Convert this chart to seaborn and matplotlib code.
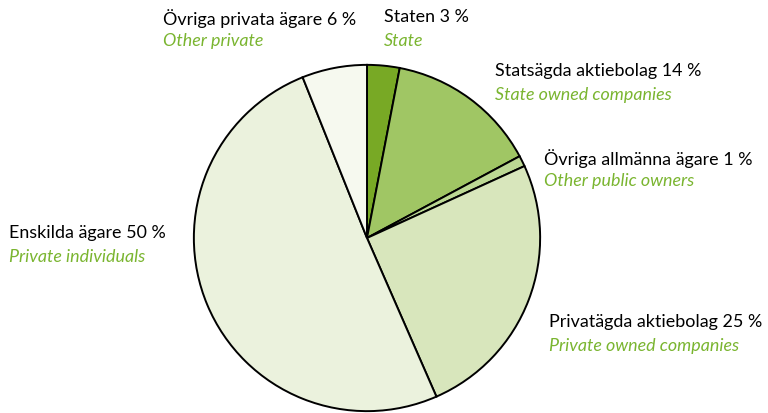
import matplotlib
matplotlib.use("Agg")
import matplotlib.pyplot as plt
import seaborn as sns

# ownership shares, clockwise from top
labels_sv = ["Staten 3 %", "Statsägda aktiebolag 14 %", "Övriga allmänna ägare 1 %",
             "Privatägda aktiebolag 25 %", "Enskilda ägare 50 %", "Övriga privata ägare 6 %"]
labels_en = ["State", "State owned companies", "Other public owners",
             "Private owned companies", "Private individuals", "Other private"]
shares = [3, 14, 1, 25, 50, 6]
colors = ["#78a925", "#a0c664", "#bcd894", "#d8e6bc", "#ebf2dd", "#f6f9ef"]

# label anchor positions in pixels (left x, top y)
label_px = [(384, 9), (495, 63), (544, 149), (549, 314), (9, 225), (163, 9)]

sns.set_theme(style="white")
plt.rcParams["font.family"] = ["Lato", "DejaVu Sans"]

W, H = 768, 414
fig = plt.figure(figsize=(W / 100, H / 100), dpi=100)
cx, cy, r = 367, 239, 174
ax = fig.add_axes([(cx - r) / W, (H - cy - r) / H, 2 * r / W, 2 * r / H])
ax.pie(shares, colors=colors, startangle=90, counterclock=False,
       wedgeprops=dict(edgecolor="black", linewidth=1.4))
ax.set_xlim(-1.005, 1.005)
ax.set_ylim(-1.005, 1.005)
ax.set_aspect("equal")
ax.axis("off")

for sv, en, (x, y) in zip(labels_sv, labels_en, label_px):
    fig.text(x / W, 1 - y / H, sv, ha="left", va="top", fontsize=12.9, color="black")
    fig.text(x / W, 1 - (y + 24) / H, en, ha="left", va="top", fontsize=12.9,
             color="#7ab530", style="italic")

fig.savefig("out.png", dpi=100)
